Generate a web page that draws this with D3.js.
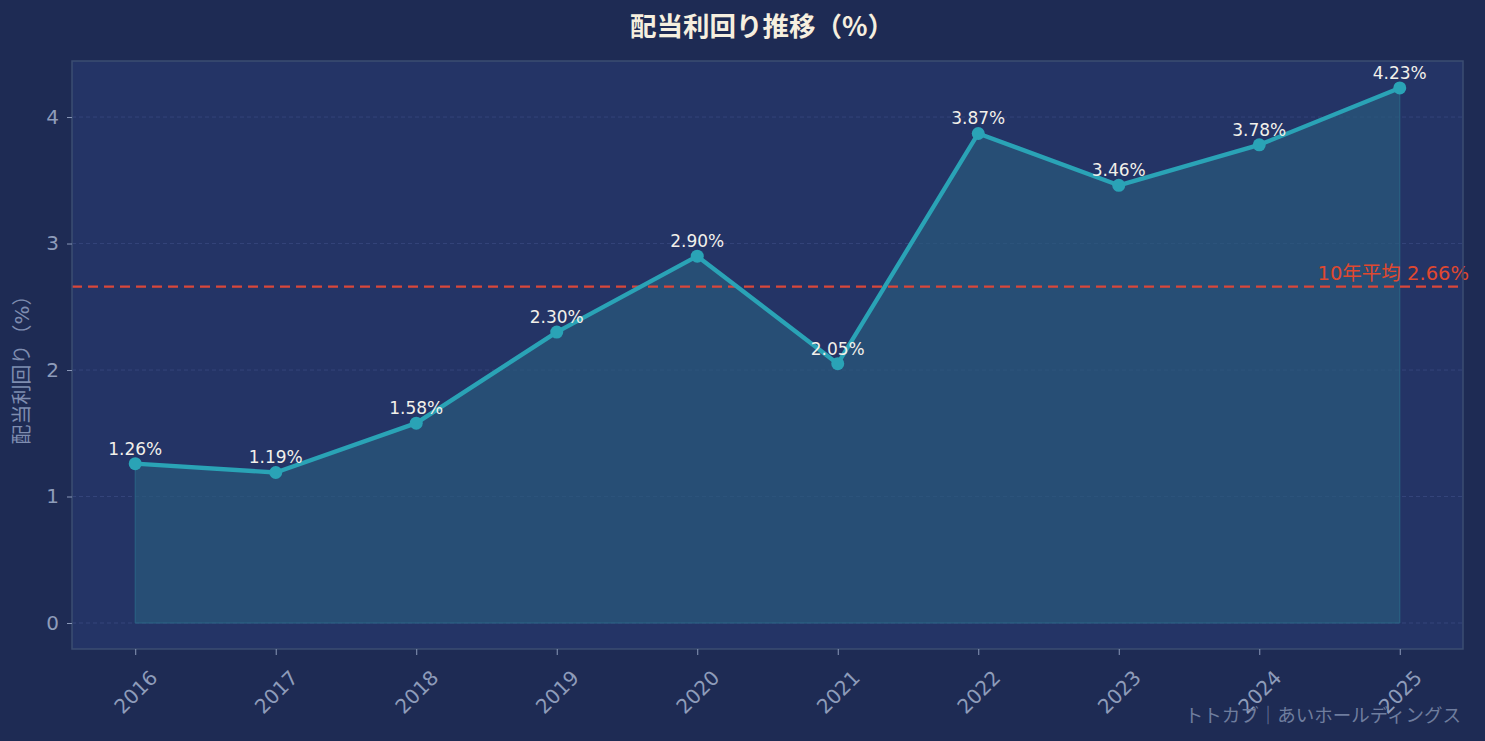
<!DOCTYPE html>
<html><head><meta charset="utf-8">
<script src="https://cdn.jsdelivr.net/npm/d3@7"></script>
<style>
html,body{margin:0;padding:0;background:#1e2b54;}
svg{display:block;font-family:"DejaVu Sans","Noto Sans CJK JP",sans-serif;}
</style></head>
<body>
<svg id="c" width="1485" height="741"></svg>
<script>
const years = ["2016","2017","2018","2019","2020","2021","2022","2023","2024","2025"];
const yields = [1.26,1.19,1.58,2.30,2.90,2.05,3.87,3.46,3.78,4.23];
const average = 2.66;
const yTicks = [0,1,2,3,4];
const titleText = "配当利回り推移（%）";
const yLabel = "配当利回り（%）";
const avgLabel = "10年平均 2.66%";
const credit = "トトカブ｜あいホールディングス";

const svg = d3.select("#c");
const W = 1485, H = 741;
const m = {l:72, r:1463, t:61, b:649};

svg.append("rect").attr("width",W).attr("height",H).attr("fill","#1e2b54");
svg.append("rect").attr("x",m.l).attr("y",m.t).attr("width",m.r-m.l).attr("height",m.b-m.t).attr("fill","#243466");

const x = d3.scaleLinear().domain([-0.45, years.length-1+0.45]).range([m.l, m.r]);
const y = d3.scaleLinear().domain([-0.2055, 4.443]).range([m.b, m.t]);

// grid
svg.append("g").selectAll("line").data(yTicks).join("line")
  .attr("x1",m.l).attr("x2",m.r).attr("y1",d=>y(d)).attr("y2",d=>y(d))
  .attr("stroke","#34447a").attr("stroke-width",1).attr("stroke-dasharray","4,3");

// area
const area = d3.area().x((d,i)=>x(i)).y0(y(0)).y1(d=>y(d));
svg.append("path").datum(yields).attr("d",area)
  .attr("fill","#2a5a7c").attr("fill-opacity",0.7)
  .attr("stroke","#2a6585").attr("stroke-width",1);

// average line
svg.append("line").attr("x1",m.l).attr("x2",m.r).attr("y1",y(average)).attr("y2",y(average))
  .attr("stroke","#d9473a").attr("stroke-width",2.2).attr("stroke-dasharray","10,6");
svg.append("text").attr("x",1469).attr("y",y(average)-7).attr("text-anchor","end")
  .attr("fill","#e0482f").attr("font-size",19.5).text(avgLabel);

// line
const line = d3.line().x((d,i)=>x(i)).y(d=>y(d));
svg.append("path").datum(yields).attr("d",line).attr("fill","none")
  .attr("stroke","#2aa3b6").attr("stroke-width",4.3).attr("stroke-linejoin","round");
svg.append("g").selectAll("circle").data(yields).join("circle")
  .attr("cx",(d,i)=>x(i)).attr("cy",d=>y(d)).attr("r",6.5).attr("fill","#2aa3b6");

// labels
svg.append("g").selectAll("text").data(yields).join("text")
  .attr("x",(d,i)=>x(i)).attr("y",d=>y(d)-9).attr("text-anchor","middle")
  .attr("fill","#f2f0ea").attr("font-size",17).text(d=>d.toFixed(2)+"%");

// frame
svg.append("rect").attr("x",m.l).attr("y",m.t).attr("width",m.r-m.l).attr("height",m.b-m.t)
  .attr("fill","none").attr("stroke","#3b4d72").attr("stroke-width",1.5);

// y axis
const yAxis = d3.axisLeft(y).tickValues(yTicks).tickSize(5).tickPadding(8).tickFormat(d3.format("d"));
const gy = svg.append("g").attr("transform",`translate(${m.l},0)`).call(yAxis);
gy.select(".domain").remove();
gy.selectAll("line").attr("stroke","#8a98b8");
gy.selectAll("text").attr("fill","#8e9cba").attr("font-size",20).attr("font-family","DejaVu Sans, sans-serif");

// x axis
const xAxis = d3.axisBottom(x).tickValues(d3.range(years.length)).tickSize(6).tickFormat(i=>years[i]);
const gx = svg.append("g").attr("transform",`translate(0,${m.b})`).call(xAxis);
gx.select(".domain").remove();
gx.selectAll("line").attr("stroke","#8a98b8");
gx.selectAll("text").attr("fill","#8e9cba").attr("font-size",20).attr("font-family","DejaVu Sans, sans-serif")
  .attr("text-anchor","middle").attr("y",0).attr("dy","0.35em")
  .attr("transform","translate(0,43) rotate(-45)");

// title
svg.append("text").attr("x",762).attr("y",36).attr("text-anchor","middle")
  .attr("fill","#f6efdf").attr("font-size",26.5).attr("font-weight","bold")
  .attr("font-family","Noto Sans CJK JP, sans-serif").text(titleText);

// y label
svg.append("text").attr("transform",`translate(29,365) rotate(-90)`).attr("text-anchor","middle")
  .attr("fill","#7f8db0").attr("font-size",20).text(yLabel);

// credit
svg.append("text").attr("x",1461).attr("y",722).attr("text-anchor","end")
  .attr("fill","#6f7d9e").attr("font-size",18.5).text(credit);
</script>
</body></html>
